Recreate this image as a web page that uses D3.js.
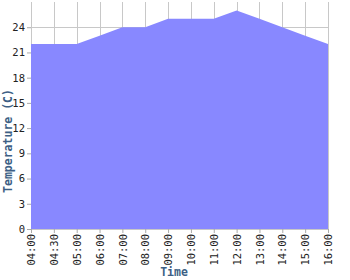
<!DOCTYPE html>
<html>
<head>
<meta charset="utf-8">
<script src="https://cdn.jsdelivr.net/npm/d3@7"></script>
<style>
  body { margin: 0; background: #fff; }
  .tick text { font-family: "DejaVu Sans Mono", monospace; font-size: 10.5px; fill: #222; }
  .axis-title { font-family: "DejaVu Sans Mono", monospace; font-size: 11.5px; font-weight: bold; fill: #3d5f85; }
</style>
</head>
<body>
<svg class="chart" width="350" height="280"></svg>
<script>
const times = ["04:00", "04:30", "05:00", "06:00", "07:00", "08:00", "09:00",
  "10:00", "11:00", "12:00", "13:00", "14:00", "15:00", "16:00"];
const temperatures = [22, 22, 22, 23, 24, 24, 25, 25, 25, 26, 25, 24, 23, 22];
const yTicks = [0, 3, 6, 9, 12, 15, 18, 21, 24];

function createChart() {
  const svg = d3.select(".chart");
  const left = 31;
  const right = 328;
  const top = 2;
  const bottom = 229;

  const xScale = d3.scalePoint().domain(times).range([left, right]);
  const yScale = d3.scaleLinear().domain([0, 27]).range([bottom, top]);

  // grid
  const grid = svg.append("g").attr("stroke", "#c8c8c8").attr("stroke-width", 1);
  grid.selectAll(".vline")
    .data(times)
    .enter()
    .append("line")
    .attr("x1", (d) => Math.round(xScale(d)) + 0.5)
    .attr("x2", (d) => Math.round(xScale(d)) + 0.5)
    .attr("y1", top)
    .attr("y2", bottom);
  grid.selectAll(".hline")
    .data(yTicks)
    .enter()
    .append("line")
    .attr("x1", left)
    .attr("x2", right + 1)
    .attr("y1", (d) => Math.round(yScale(d)) + 0.5)
    .attr("y2", (d) => Math.round(yScale(d)) + 0.5);

  const area = d3.area()
    .x((d, i) => xScale(times[i]))
    .y0(yScale(0))
    .y1((d) => yScale(d));

  svg.append("path")
    .datum(temperatures)
    .attr("fill", "#8888ff")
    .attr("d", area);

  const xAxis = d3.axisBottom(xScale).tickSize(4).tickPadding(2);
  const gx = svg.append("g")
    .attr("transform", "translate(0," + bottom + ")")
    .call(xAxis);
  gx.select(".domain").remove();
  gx.selectAll(".tick line").attr("stroke", "#aaa");
  gx.selectAll(".tick text")
    .attr("transform", "rotate(-90)")
    .attr("text-anchor", "end")
    .attr("x", -5)
    .attr("y", 0)
    .attr("dy", "0.35em");

  const yAxis = d3.axisLeft(yScale).tickValues(yTicks).tickSize(4).tickPadding(2);
  const gy = svg.append("g")
    .attr("transform", "translate(" + left + ",0)")
    .call(yAxis);
  gy.select(".domain").remove();
  gy.selectAll(".tick line").attr("stroke", "#aaa");

  svg.append("text")
    .attr("class", "axis-title")
    .attr("x", 174)
    .attr("y", 276)
    .attr("text-anchor", "middle")
    .text("Time");

  svg.append("text")
    .attr("class", "axis-title")
    .attr("transform", "translate(12,141) rotate(-90)")
    .attr("text-anchor", "middle")
    .text("Temperature (C)");
}

createChart();
</script>
</body>
</html>
